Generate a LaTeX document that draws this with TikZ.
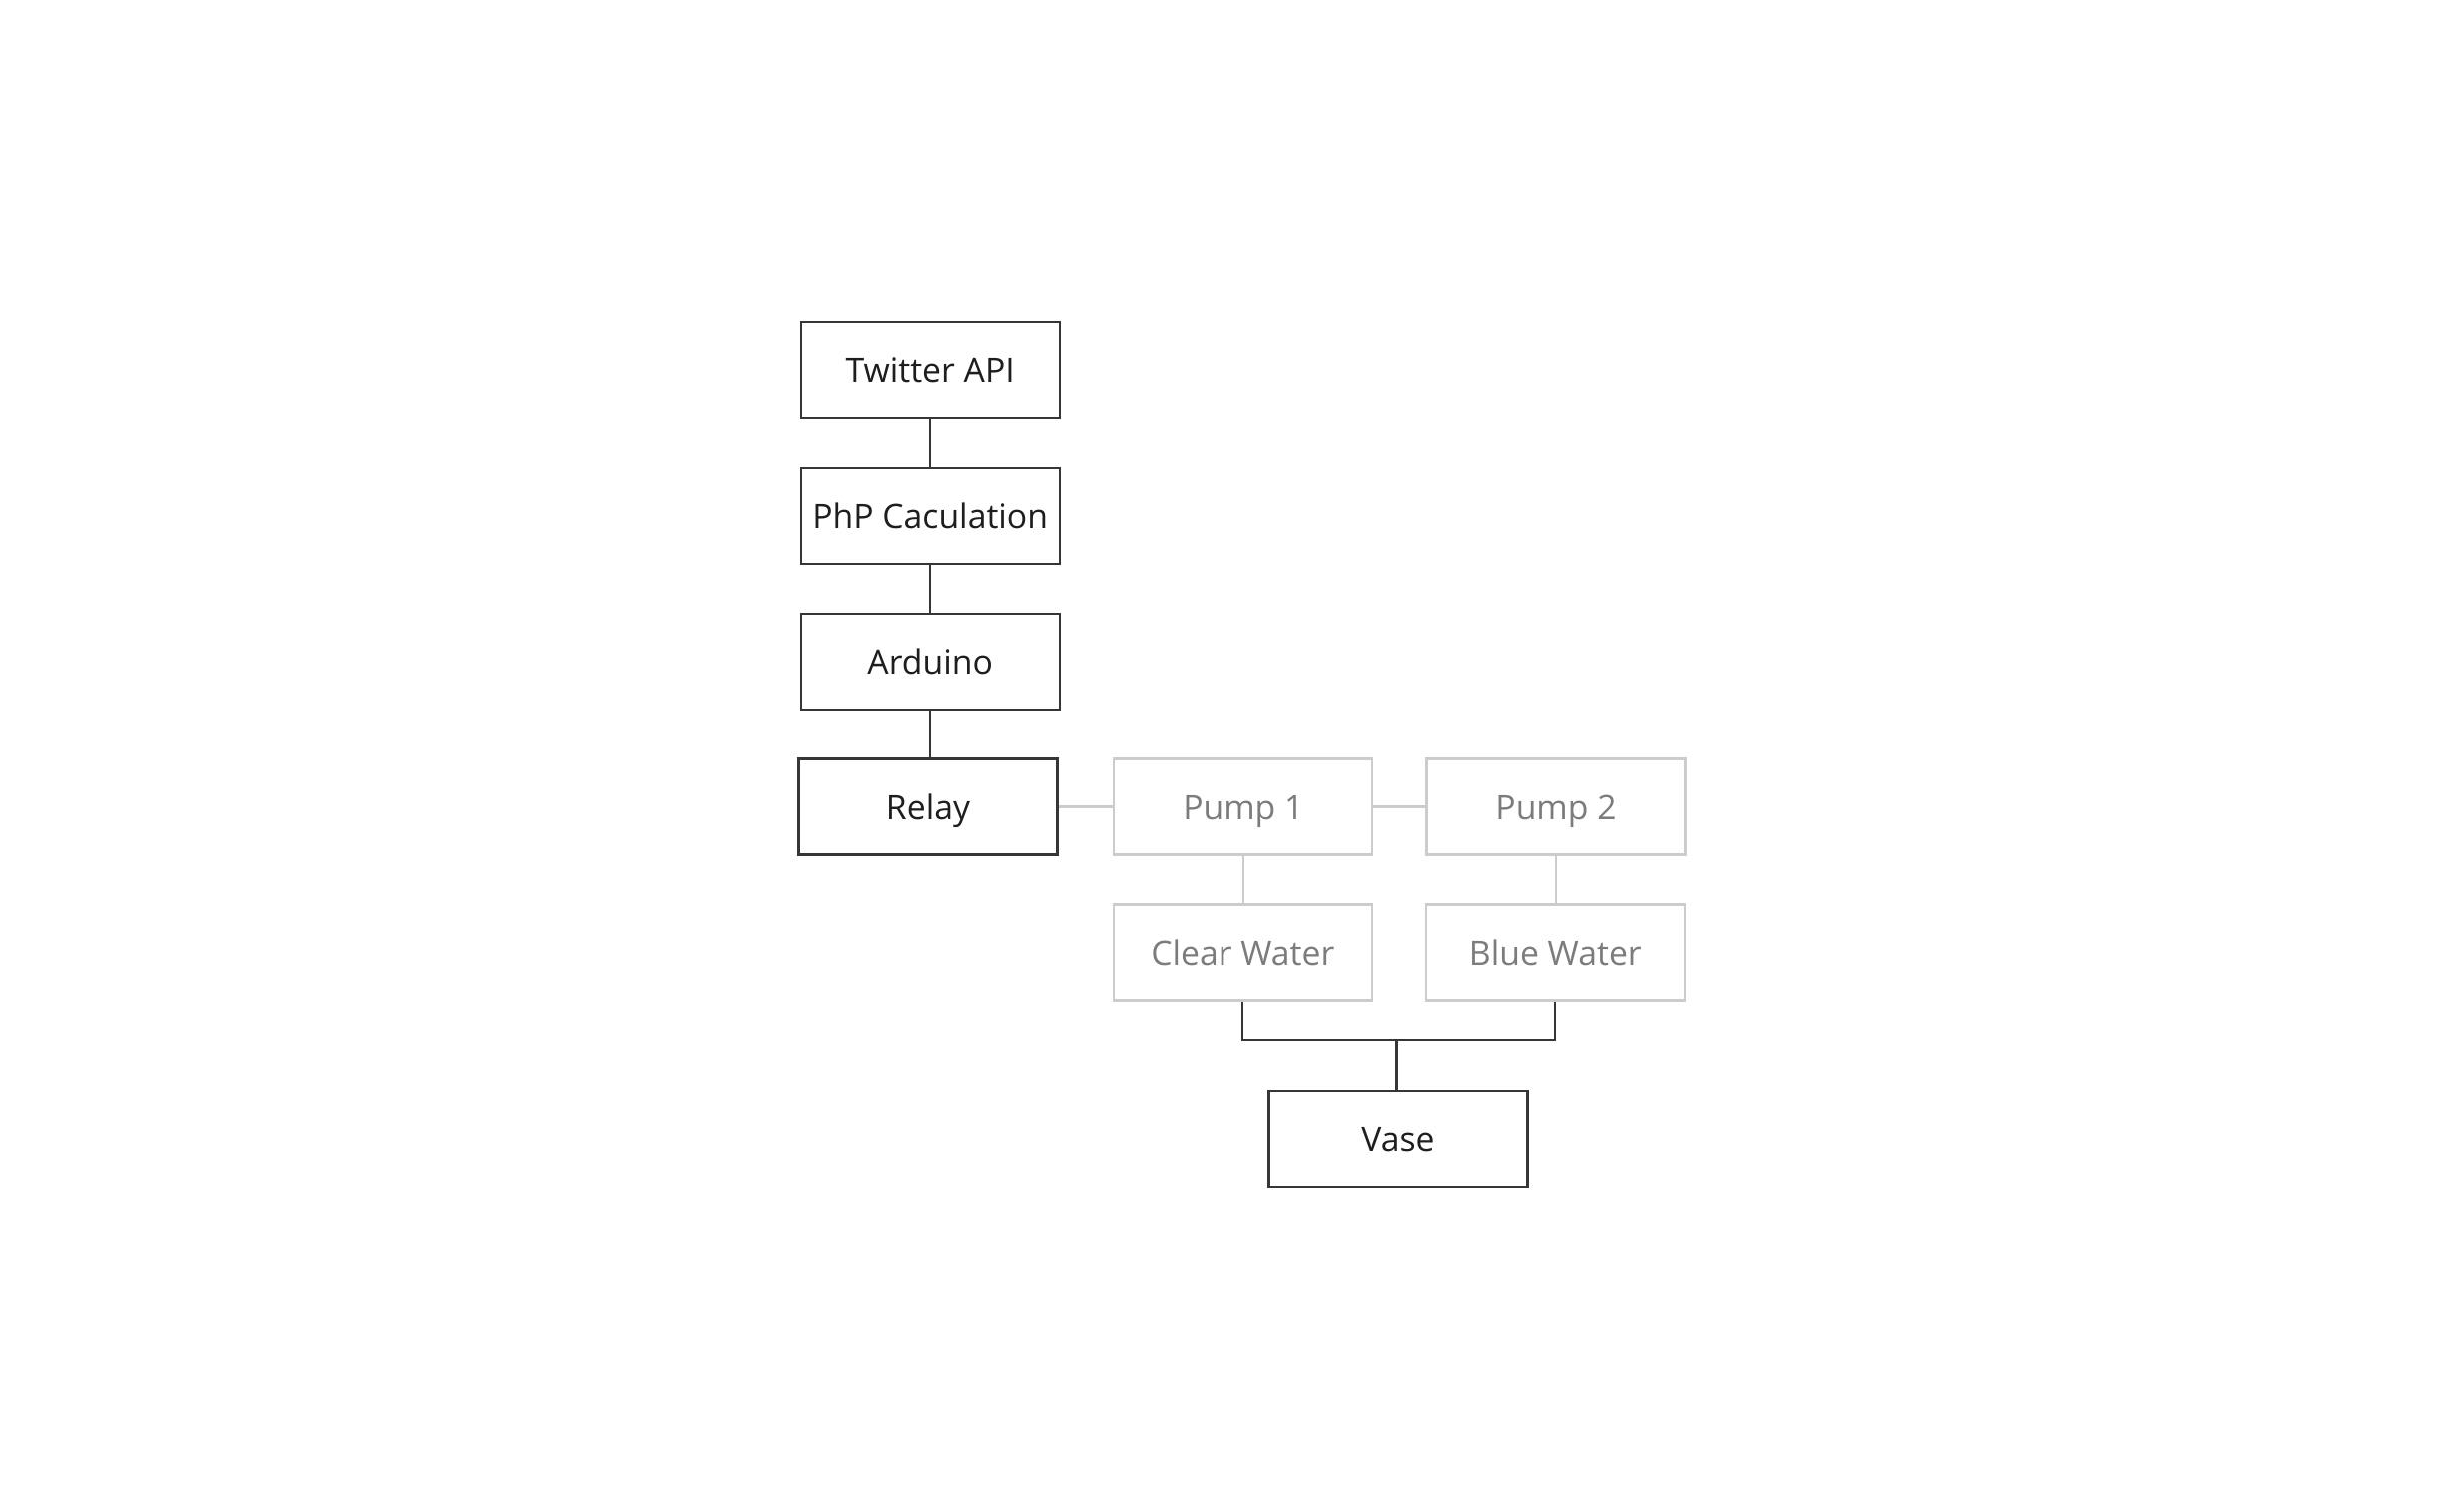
\documentclass[tikz,border=0pt]{standalone}
\usepackage{fontspec}
\setmainfont{Open Sans}
\usepackage{tikz}

\definecolor{boxdark}{HTML}{363636}
\definecolor{boxlight}{HTML}{CCCCCC}
\definecolor{textdark}{HTML}{1E1E1E}
\definecolor{textlight}{HTML}{7C7C7C}

\tikzset{
    darkbox/.style={draw=boxdark, line width=0.6pt, text=textdark, minimum width=2.59cm, minimum height=0.96cm, inner sep=0pt, text height=0.72em, text depth=0pt, font=\fontsize{9.6}{11}\selectfont},
    lightbox/.style={darkbox, draw=boxlight, text=textlight},
    darkline/.style={boxdark, line width=0.6pt},
    lightline/.style={boxlight, line width=0.6pt}
}

\begin{document}
\begin{tikzpicture}
                \useasboundingbox [fill=white] (0, 0) rectangle (24.49, -15.14);
                \node [darkbox] (twitter) at (9.322, -3.712) {Twitter API};
                \node [darkbox] (php) at (9.322, -5.172) {PhP Caculation};
                \node [darkbox] (arduino) at (9.322, -6.632) {Arduino};
                \node [darkbox] (relay) at (9.30, -8.085) {Relay};
                \node [lightbox] (pumpone) at (12.458, -8.085) {Pump 1};
                \node [lightbox] (pumptwo) at (15.59, -8.085) {Pump 2};
                \node [lightbox] (clear) at (12.453, -9.545) {Clear Water};
                \node [lightbox] (blue) at (15.583, -9.545) {Blue Water};
                \node [darkbox] (vase) at (14.01, -11.41) {Vase};
                \coordinate (bus) at (13.995, -10.418);
                \draw [darkline] (twitter.south -| arduino.south) -- (php.north -| arduino.south);
                \draw [darkline] (php.south -| arduino.south) -- (arduino.north);
                \draw [darkline] (arduino.south) -- (arduino.south |- relay.north);
                \draw [lightline] (relay) -- (pumpone);
                \draw [lightline] (pumpone) -- (pumptwo);
                \draw [lightline] (pumpone) -- (clear.north -| pumpone.south);
                \draw [lightline] (pumptwo) -- (blue.north -| pumptwo.south);
                \draw [darkline] (clear.south) |- (bus) -| (blue.south);
                \draw [darkline] (bus) -- (bus |- vase.north);
            \end{tikzpicture}
\end{document}
